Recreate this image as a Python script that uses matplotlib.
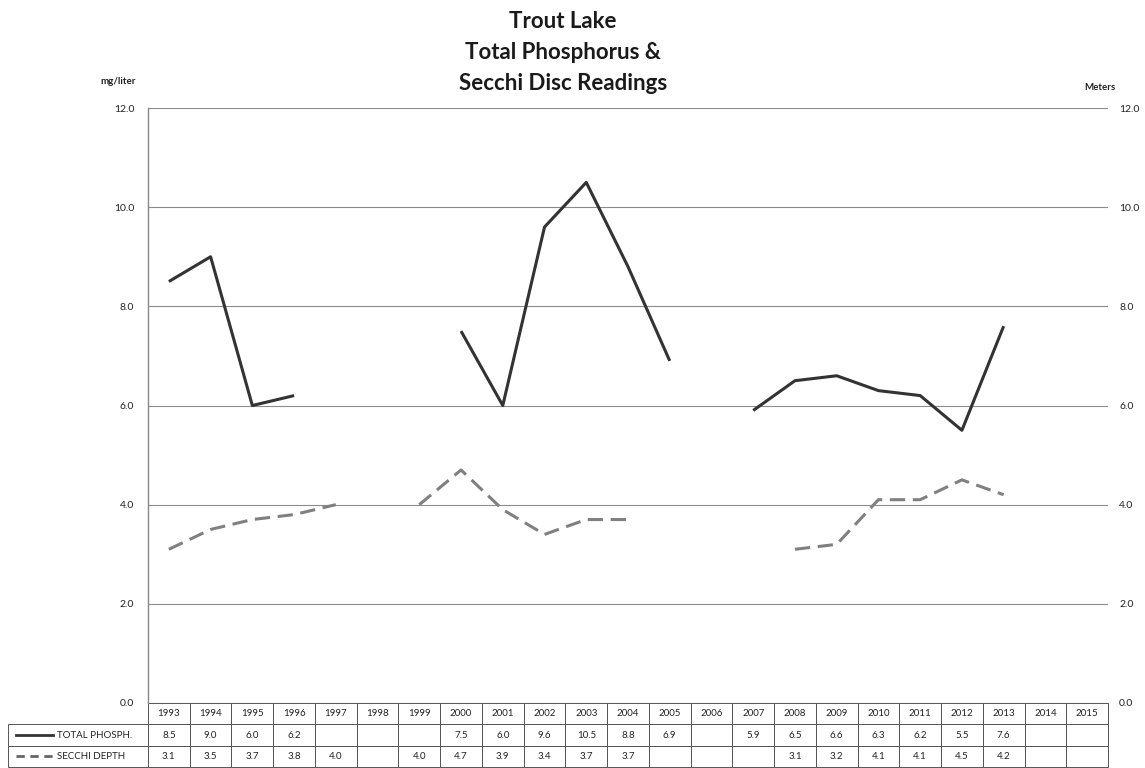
import numpy as np
import matplotlib
matplotlib.use("Agg")
import matplotlib.pyplot as plt
from matplotlib.lines import Line2D
from matplotlib.table import Table

plt.rcParams['font.family'] = ['Lato', 'DejaVu Sans']

# ---------- DATA ----------
years = list(range(1993, 2016))
phosphorus = [8.5, 9.0, 6.0, 6.2, None, None, None, 7.5, 6.0, 9.6, 10.5, 8.8,
              6.9, None, 5.9, 6.5, 6.6, 6.3, 6.2, 5.5, 7.6, None, None]
secchi = [3.1, 3.5, 3.7, 3.8, 4.0, None, 4.0, 4.7, 3.9, 3.4, 3.7, 3.7,
          None, None, None, 3.1, 3.2, 4.1, 4.1, 4.5, 4.2, None, None]
series_names = ["TOTAL PHOSPH.", "SECCHI DEPTH"]
title_lines = ["Trout Lake", "Total Phosphorus &", "Secchi Disc Readings"]
y_ticks = [0, 2, 4, 6, 8, 10, 12]


def to_arr(vals):
    return np.array([np.nan if v is None else v for v in vals], dtype=float)


def fmt(v):
    return "" if v is None else f"{v:.1f}"


W, H = 1145, 768
fig = plt.figure(figsize=(W / 100, H / 100), dpi=100)
fig.patch.set_facecolor("white")

# plot area in pixels
left_px, right_px, top_px, bottom_px = 148, 1108, 108, 703
ax = fig.add_axes([left_px / W, 1 - bottom_px / H,
                   (right_px - left_px) / W, (bottom_px - top_px) / H])
ax2 = ax.twinx()

x = np.arange(len(years))
ax.plot(x, to_arr(phosphorus), color="#333333", lw=2.2, solid_capstyle="butt")
ax2.plot(x, to_arr(secchi), color="#808080", lw=2.2, dashes=(5, 2.5))

for a in (ax, ax2):
    a.set_xlim(-0.5, len(years) - 0.5)
    a.set_ylim(0, 12)
    a.set_yticks(y_ticks)
    a.set_yticklabels([f"{t:.1f}" for t in y_ticks])
    a.tick_params(axis="y", length=0, labelsize=7.5, colors="#222222")
    a.set_xticks([])
    for s in a.spines.values():
        s.set_visible(False)

ax.tick_params(axis="y", pad=10)
ax2.tick_params(axis="y", pad=8)
ax.spines["left"].set_visible(True)
ax.spines["left"].set_color("#888888")
ax.spines["left"].set_linewidth(1.0)
ax.set_axisbelow(True)
ax.yaxis.grid(True, color="#8c8c8c", lw=0.8)

# axis unit labels
fig.text(118 / W, 1 - 82 / H, "mg/liter", ha="center", va="center",
         fontsize=7, fontweight="bold", color="#222222")
fig.text(1100 / W, 1 - 87 / H, "Meters", ha="center", va="center",
         fontsize=7, fontweight="bold", color="#222222")

# title
for i, line in enumerate(title_lines):
    fig.text(563 / W, 1 - (22 + 30.5 * i) / H, line, ha="center", va="center",
             fontsize=16, fontweight="bold", color="#1a1a1a")

# ---------- DATA TABLE ----------
plot_w = right_px - left_px
plot_h = bottom_px - top_px
label_w = (left_px - 8) / plot_w
tab_h = (767 - bottom_px) / plot_h
row_h = tab_h / 3
col_w = 1.0 / len(years)

# bbox covers the year columns only; the label column sits to its left
tbl = Table(ax, bbox=[0, -tab_h, 1, tab_h])
tbl.auto_set_font_size(False)
for j, yr in enumerate(years):
    tbl.add_cell(0, j, width=col_w, height=row_h, text=str(yr), loc="center")
for i, vals in enumerate([phosphorus, secchi]):
    tbl.add_cell(i + 1, -1, width=label_w, height=row_h, text="", loc="left")
    for j, v in enumerate(vals):
        tbl.add_cell(i + 1, j, width=col_w, height=row_h, text=fmt(v), loc="center")
tbl.set_fontsize(7)
for (r, c), cell in tbl.get_celld().items():
    cell.set_edgecolor("#555555")
    cell.set_linewidth(0.7)
    cell.get_text().set_color("#222222")
ax.add_table(tbl)

# legend keys in row label cells
for i, name in enumerate(series_names):
    yc = -row_h * (1.5 + i)
    kx0 = -label_w + 8 / plot_w
    kx1 = -label_w + 45 / plot_w
    if i == 0:
        key = Line2D([kx0, kx1], [yc, yc], color="#333333", lw=2,
                     transform=ax.transAxes, clip_on=False)
    else:
        key = Line2D([kx0, kx1], [yc, yc], color="#666666", lw=2,
                     dashes=(3, 2), transform=ax.transAxes, clip_on=False)
    ax.add_line(key)
    ax.text(-label_w + 49 / plot_w, yc, name, transform=ax.transAxes, ha="left",
            va="center", fontsize=7, color="#222222")

fig.savefig("out.png", dpi=100, facecolor="white")
